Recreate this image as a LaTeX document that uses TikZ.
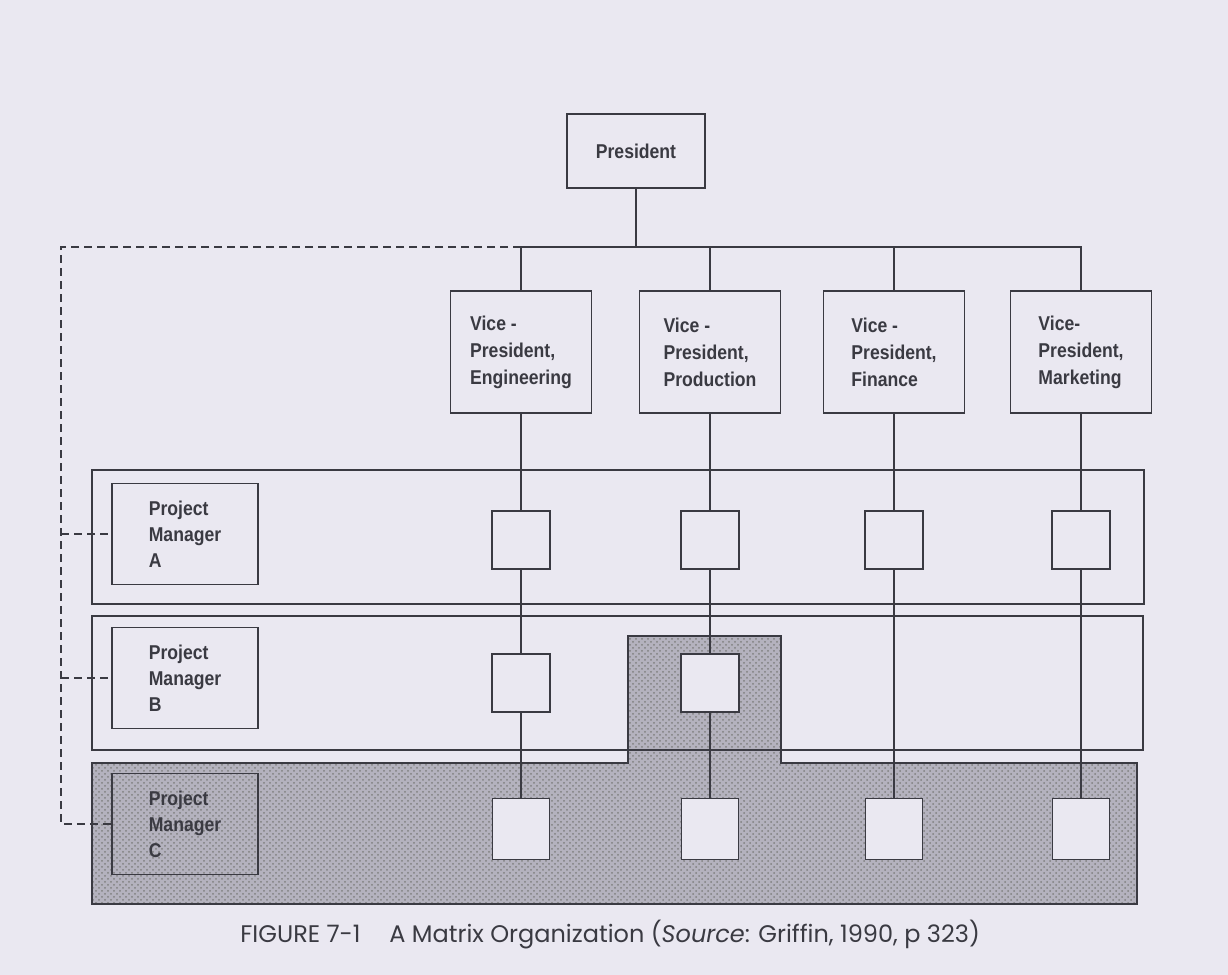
\documentclass[tikz,border=0pt]{standalone}
\usepackage{fontspec}
\setmainfont{Liberation Sans}
\newfontfamily\boxfont[FakeStretch=0.88]{Liberation Sans}
\newfontfamily\capfont{Poppins}
\usetikzlibrary{patterns}
\definecolor{paper}{RGB}{234,232,241}
\definecolor{ink}{RGB}{58,58,66}
\definecolor{stipple}{RGB}{180,178,190}
\begin{document}
\begin{tikzpicture}[x=0.5pt, y=-0.5pt,
  box/.style={draw=ink, line width=0.9pt, fill=paper, inner sep=0pt, align=left, text=ink,
    font=\boxfont\bfseries\fontsize{10}{13.5}\selectfont},
  vpbox/.style={box, minimum width=70.5pt, minimum height=61pt},
  pmbox/.style={box, minimum width=73pt, minimum height=50.5pt, font=\boxfont\bfseries\fontsize{10}{13}\selectfont},
  unit/.style={box, minimum width=29pt, minimum height=29pt},
  cunit/.style={box, minimum width=28.5pt, minimum height=30.5pt},
  row/.style={draw=ink, line width=0.9pt, inner sep=0pt},
  link/.style={draw=ink, line width=0.9pt},
  matrixlink/.style={draw=ink, line width=0.9pt, dashed, dash pattern=on 4pt off 2.5pt}]
\useasboundingbox (0,0) rectangle (1228,975);
\fill[paper] (0,0) rectangle (1228,975);
% project C band, shaded
\fill[stipple, postaction={pattern=crosshatch dots, pattern color=black!50}]
  (92,763) -- (628,763) -- (628,636) -- (781,636) -- (781,763) -- (1137,763) -- (1137,904) -- (92,904) -- cycle;
\node[row, minimum width=526pt, minimum height=67pt] (rowa) at (618,537){};
\node[row, minimum width=525.5pt, minimum height=67pt] (rowb) at (617.5,683){};
\draw[link] (92,763) -- (628,763) -- (628,636) -- (781,636) -- (781,763) -- (1137,763) -- (1137,904) -- (92,904) -- cycle;
% functional line
\node[box, minimum width=69pt, minimum height=37pt] (pres) at (636,151){President};
\node[vpbox] (vp1) at (521,352){Vice -\\President,\\Engineering};
\node[vpbox] (vp2) at (710,352){Vice -\\President,\\Production};
\node[vpbox] (vp3) at (894,352){Vice -\\President,\\Finance};
\node[vpbox] (vp4) at (1081,352){Vice-\\President,\\Marketing};
\coordinate (bus) at (636,247);
\coordinate (dl) at (61,247);
\draw[link] (pres.south) -- (bus);
\draw[link] (vp1.north) |- (bus);
\draw[link] (vp4.north) |- (bus);
\draw[link] (vp2.north) -- (vp2.north |- bus);
\draw[link] (vp3.north) -- (vp3.north |- bus);
% project managers
\node[pmbox] (pma) at (185,534){Project\\Manager\\A};
\node[pmbox] (pmb) at (185,678){Project\\Manager\\B};
\node[pmbox, fill=none] (pmc) at (185,824){Project\\Manager\\C};
\draw[matrixlink] (vp1.north |- bus) -- (dl) |- (pmc.west);
\draw[matrixlink] (dl |- pma.west) -- (pma.west);
\draw[matrixlink] (dl |- pmb.west) -- (pmb.west);
% team members
\node[unit] (a1) at (521,540){};
\node[unit] (a2) at (710,540){};
\node[unit] (a3) at (894,540){};
\node[unit] (a4) at (1081,540){};
\node[unit] (b1) at (521,683){};
\node[unit] (b2) at (710,683){};
\node[cunit] (c1) at (521,829){};
\node[cunit] (c2) at (710,829){};
\node[cunit] (c3) at (894,829){};
\node[cunit] (c4) at (1081,829){};
\draw[link] (vp1) -- (a1);
\draw[link] (a1) -- (b1);
\draw[link] (b1) -- (c1);
\draw[link] (vp2) -- (a2);
\draw[link] (a2) -- (b2);
\draw[link] (b2) -- (c2);
\draw[link] (vp3) -- (a3);
\draw[link] (a3) -- (c3);
\draw[link] (vp4) -- (a4);
\draw[link] (a4) -- (c4);
% caption
\node[anchor=base west, inner sep=0pt, text=ink, font=\capfont\fontsize{12}{14}\selectfont] (cap) at (240,942)
  {FIGURE 7-1\hspace{1.2em}A Matrix Organization (\textit{Source}: Griffin, 1990, p 323)};
\end{tikzpicture}
\end{document}
